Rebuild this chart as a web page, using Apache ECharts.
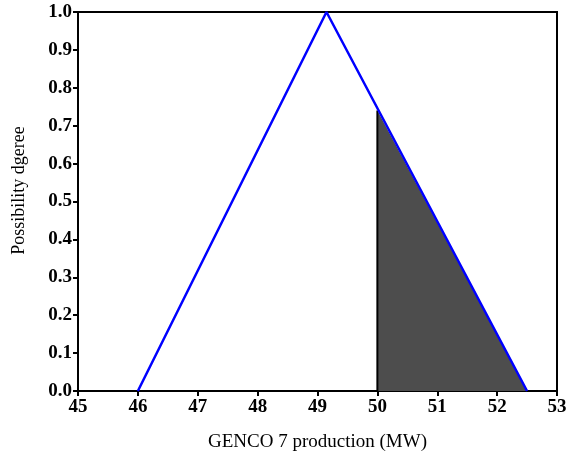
<!DOCTYPE html>
<html lang="en">
<head>
    <meta charset="UTF-8">
    <title>GENCO 7</title>
    <script type="text/javascript" src="https://cdn.jsdelivr.net/npm/echarts@6/dist/echarts.min.js"></script>
    <style>
        body { margin: 0; background: #fff; }
    </style>
</head>
<body>
<div id="main" style="width: 574px; height: 458px;"></div>

<script>
    // possibility distribution (triangle)
    var triangle = [[46, 0], [49.15, 1], [52.5, 0]];
    // shaded part to the right of 50 MW
    var shaded = [[50, 0.74], [52.5, 0]];
    var cutEdge = [[50, 0], [50, 0.74]];

    var xTicks = [45, 46, 47, 48, 49, 50, 51, 52, 53];

    var font = '"Liberation Serif", "DejaVu Serif", serif';

    var myChart = echarts.init(document.getElementById('main'));

    var option = {
        animation: false,
        backgroundColor: '#fff',
        grid: {
            left: 78,
            right: 17,
            top: 12,
            bottom: 67,
            outerBoundsMode: 'none',
            show: true,
            borderColor: '#000',
            borderWidth: 2
        },
        xAxis: {
            type: 'value',
            min: xTicks[0],
            max: xTicks[xTicks.length - 1],
            interval: 1,
            name: 'GENCO 7 production (MW)',
            nameLocation: 'middle',
            nameGap: 42,
            nameTextStyle: { fontFamily: font, fontSize: 19, color: '#000' },
            axisLine: { lineStyle: { color: '#000', width: 2 } },
            axisTick: { show: true, length: 5, lineStyle: { color: '#000', width: 2 } },
            axisLabel: { fontFamily: font, fontSize: 19, fontWeight: 'bold', color: '#000', margin: 7 },
            splitLine: { show: false }
        },
        yAxis: {
            type: 'value',
            min: 0,
            max: 1,
            interval: 0.1,
            name: 'Possibility dgeree',
            nameLocation: 'middle',
            nameGap: 50,
            nameTextStyle: { fontFamily: font, fontSize: 18, color: '#000', padding: [0, 0, 0, 22] },
            axisLine: { lineStyle: { color: '#000', width: 2 } },
            axisTick: { show: true, length: 5, lineStyle: { color: '#000', width: 2 } },
            axisLabel: {
                fontFamily: font, fontSize: 19, fontWeight: 'bold', color: '#000', margin: 6,
                formatter: function (v) { return v.toFixed(1); }
            },
            splitLine: { show: false }
        },
        series: [
            {
                type: 'line',
                data: shaded,
                symbol: 'none',
                lineStyle: { width: 0 },
                areaStyle: { color: '#4d4d4d', opacity: 1 },
                z: 1
            },
            {
                type: 'line',
                data: cutEdge,
                symbol: 'none',
                lineStyle: { color: '#000', width: 2 },
                z: 2
            },
            {
                type: 'line',
                data: triangle,
                symbol: 'none',
                lineStyle: { color: '#0000ff', width: 2.5 },
                z: 3
            }
        ]
    };

    myChart.setOption(option);
</script>
</body>
</html>
